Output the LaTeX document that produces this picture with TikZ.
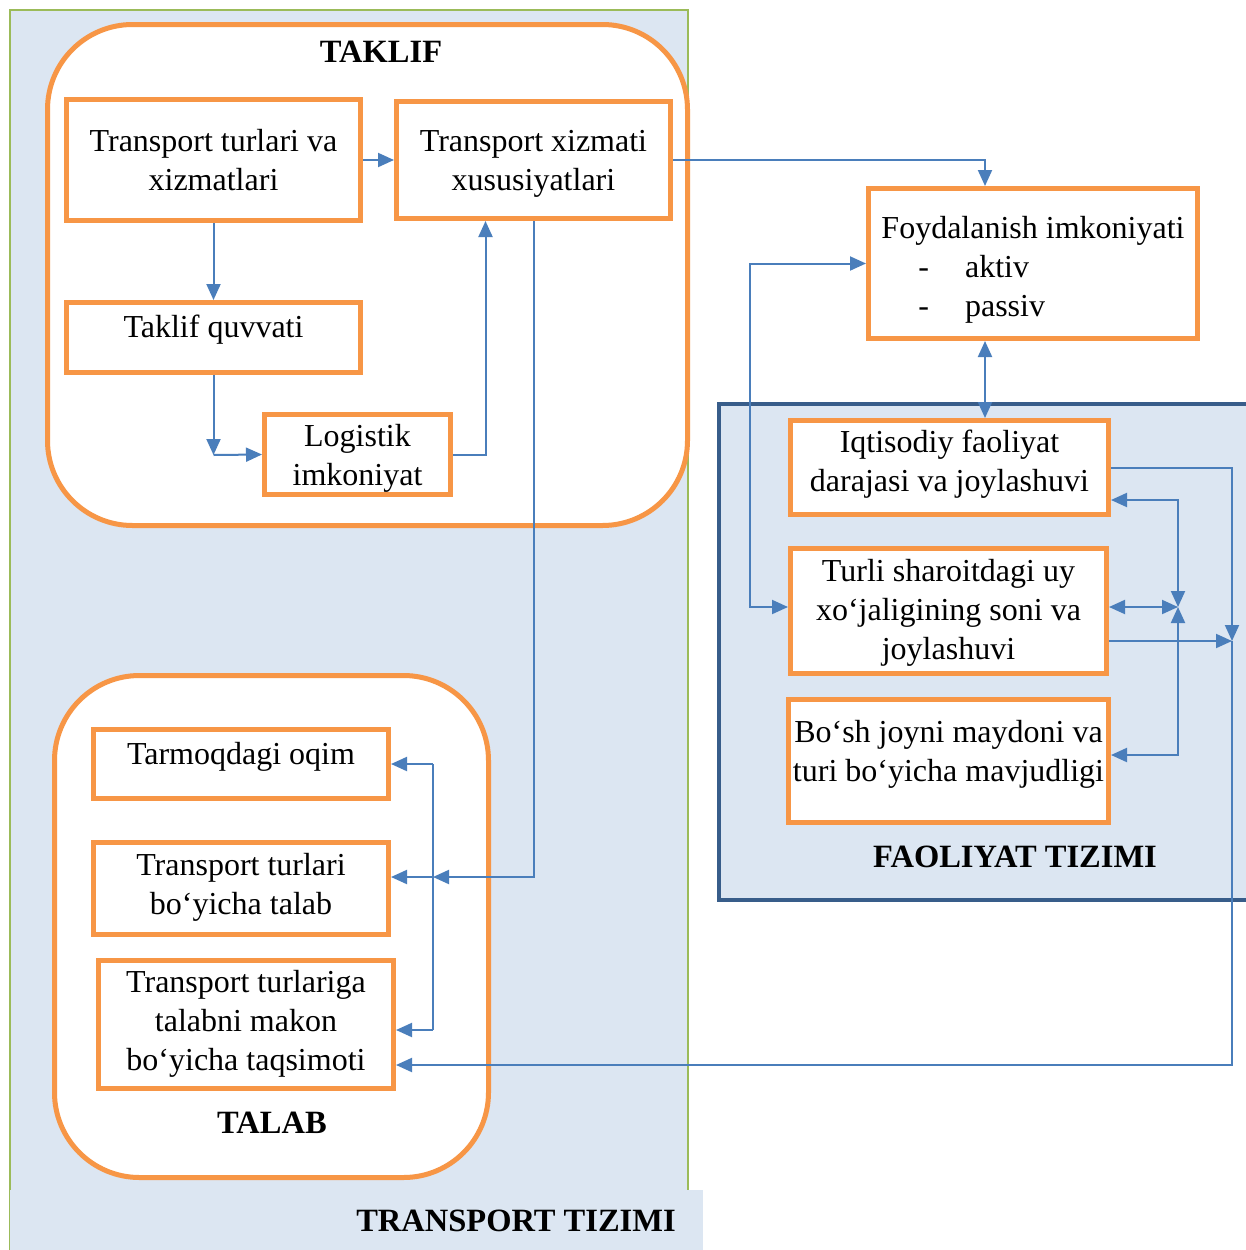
\documentclass[tikz,border=0pt]{standalone}
\usepackage{fontspec}
\setmainfont{Liberation Serif}
\usetikzlibrary{arrows.meta}
\definecolor{orng}{HTML}{F79646}
\definecolor{lblue}{HTML}{DCE6F2}
\definecolor{lineb}{HTML}{4A7EBB}
\definecolor{grn}{HTML}{9BBB59}
\definecolor{dblue}{HTML}{385D8A}
\begin{document}
\begin{tikzpicture}[x=1pt,y=-1pt,
 box/.style={draw=orng, line width=5pt, fill=white, align=center, inner sep=0pt, font=\fontsize{32}{39}\selectfont},
 rbox/.style={draw=orng, line width=5pt, fill=white, rounded corners=85pt, inner sep=0pt},
 ttl/.style={font=\fontsize{32.5}{38}\selectfont\bfseries, inner sep=0pt},
 con/.style={draw=lineb, line width=2pt},
 arr/.style={con, -{Triangle[length=16pt,width=14pt]}},
 darr/.style={con, {Triangle[length=16pt,width=14pt]}-{Triangle[length=16pt,width=14pt]}},
]
\useasboundingbox (0,0) rectangle (1245,1250);
\fill[white] (0,0) rectangle (1245,1250);
% transport system background
\fill[lblue] (10,10) rectangle (688,1250);
\draw[grn, line width=1.5pt] (10,1250) -- (10,10) -- (688,10) -- (688,1190);
\fill[lblue] (10,1190) rectangle (703,1250);
\node[ttl] (transport) at (516,1221) {TRANSPORT TIZIMI};
% faoliyat system
\draw[dblue, line width=4pt, fill=lblue] (719,404) rectangle (1262,900);
\node[ttl] (faoliyat) at (1015,857) {FAOLIYAT TIZIMI};
% rounded containers
\node[rbox, minimum width=640pt, minimum height=501pt] (taklif) at (367.5,275) {};
\node[ttl] (taklift) at (381,52) {TAKLIF};
\node[rbox, minimum width=434pt, minimum height=502pt] (talab) at (271.5,926.5) {};
\node[ttl] (talabt) at (272,1123) {TALAB};
% boxes
\node[box, minimum width=294pt, minimum height=121pt, text depth=0pt] (A) at (213.5,160) {Transport turlari va\\xizmatlari};
\node[box, minimum width=274pt, minimum height=117pt, text depth=0pt] (B) at (533.5,160) {Transport xizmati\\xususiyatlari};
\node[box, minimum width=294pt, minimum height=70pt, text depth=22pt] (C) at (213.5,337.5) {Taklif quvvati};
\node[box, minimum width=186pt, minimum height=80pt, text depth=0pt] (D) at (357.5,454.5) {Logistik\\imkoniyat};
\node[box, minimum width=295pt, minimum height=69pt, text depth=22pt] (E) at (241,764) {Tarmoqdagi oqim};
\node[box, minimum width=295pt, minimum height=92pt, text depth=10pt] (F) at (241,888.5) {Transport turlari\\bo‘yicha talab};
\node[box, minimum width=295pt, minimum height=128pt, text depth=9pt] (G) at (246,1024.5) {Transport turlariga\\talabni makon\\bo‘yicha taqsimoti};
\node[box, minimum width=329pt, minimum height=150pt, align=left, text height=113pt, text depth=7pt] (H) at (1033,263.5) {Foydalanish imkoniyati\\\hspace*{37pt}-\hspace{36pt}aktiv\\\hspace*{37pt}-\hspace{36pt}passiv};
\node[box, minimum width=318pt, minimum height=94pt, text depth=14pt] (I) at (949.5,467.5) {Iqtisodiy faoliyat\\darajasi va joylashuvi};
\node[box, minimum width=316pt, minimum height=125pt, text depth=3pt] (J) at (948.5,611) {Turli sharoitdagi uy\\xo‘jaligining soni va\\joylashuvi};
\node[box, minimum width=320pt, minimum height=123pt, text depth=20pt] (K) at (948.5,761) {Bo‘sh joyni maydoni va\\turi bo‘yicha mavjudligi};
% coordinates
\coordinate (b1) at (433,764);
\coordinate (b2) at (433,877);
\coordinate (b3) at (433,1030);
\coordinate (cd) at (213.5,455);
\coordinate (l1) at (750,607);
\coordinate (x985) at (985,0);
\coordinate (r1) at (1232,641);
\coordinate (r2) at (1232,1065);
\coordinate (h1) at (1178,607);
\coordinate (h1a) at (1178,500);
\coordinate (h1b) at (1178,755);
% connectors TAKLIF
\draw[arr] (A.east) -- (B.west);
\draw[arr] (A.south) -- (C.north);
\draw[arr] (C.south) -- (cd);
\draw[arr] (cd) -- (D.west);
\draw[arr] (D.east) -| ([xshift=-48pt]B.south);
\draw[arr] (B.east) -| (H.north -| x985);
% B to TALAB
\draw[arr] (B.south) |- (b2);
\draw[con] (b1) -- (b3);
\draw[arr] (b1) -- (E.east);
\draw[arr] (b2) -- (F.east |- b2);
\draw[arr] (b3) -- (G.east |- b3);
% right side
\draw[darr] (H.south -| x985) -- (I.north -| x985);
\draw[darr] (H.west) -| (l1) -- (J.west |- l1);
\draw[arr] (I.east) -| (r1);
\draw[arr] (J.east |- r1) -- (r1);
\draw[arr] (r1) -- (r2) -- (G.east |- r2);
\draw[darr] (I.east |- h1a) -- (h1a) -- (h1);
\draw[darr] (J.east |- h1) -- (h1);
\draw[darr] (K.east |- h1b) -- (h1b) -- (h1);
\end{tikzpicture}
\end{document}
